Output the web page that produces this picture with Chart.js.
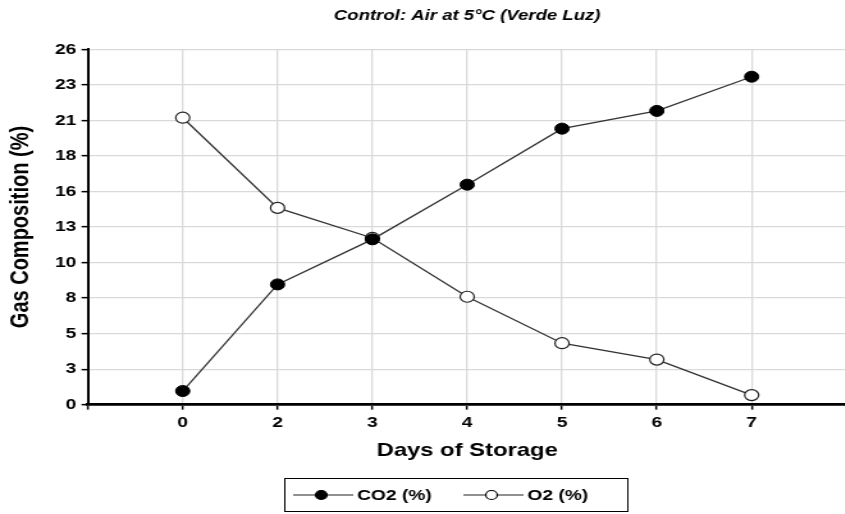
<!DOCTYPE html>
<html>
<head>
<meta charset="utf-8">
<script src="https://cdn.jsdelivr.net/npm/chart.js@4/dist/chart.umd.min.js"></script>
<style>
  html, body { margin: 0; padding: 0; background: #fff; overflow: hidden; }
  /* the original picture is stretched sideways, so draw narrow and widen it */
  #wrap { width: 668px; height: 514px; transform: scaleX(1.28); transform-origin: 0 0; }
</style>
</head>
<body>
<div id="wrap"><canvas id="chart1"></canvas></div>
<script>
// data
const days = ['0', '2', '3', '4', '5', '6', '7'];
const co2 = [1.0, 8.8, 12.1, 16.1, 20.2, 21.5, 24.0];
const o2 = [21.0, 14.4, 12.2, 7.9, 4.5, 3.3, 0.7];
const yTicks = [0, 2.6, 5.2, 7.8, 10.4, 13, 15.6, 18.2, 20.8, 23.4, 26];
const yTickLabels = ['0', '3', '5', '8', '10', '13', '16', '18', '21', '23', '26'];

// empty slot on each side of the days, like the original axis
const labels = [''].concat(days, ['']);
const pad = arr => [null].concat(arr, [null]);

const font = "'Liberation Sans', Arial, sans-serif";

// legend box with line + marker samples
const boxLegend = {
  id: 'boxLegend',
  afterDraw(chart) {
    const ctx = chart.ctx;
    ctx.save();
    ctx.strokeStyle = '#000';
    ctx.lineWidth = 1;
    ctx.strokeRect(222.5, 478.5, 268, 33);
    const y = 495;
    const items = [
      { x: 229, fill: '#000', text: 'CO2 (%)' },
      { x: 362, fill: '#fff', text: 'O2 (%)' }
    ];
    items.forEach(it => {
      ctx.strokeStyle = '#222';
      ctx.lineWidth = 1.2;
      ctx.beginPath();
      ctx.moveTo(it.x, y);
      ctx.lineTo(it.x + 47, y);
      ctx.stroke();
      ctx.beginPath();
      ctx.arc(it.x + 22, y, 4.5, 0, Math.PI * 2);
      ctx.fillStyle = it.fill;
      ctx.fill();
      ctx.strokeStyle = '#000';
      ctx.stroke();
      ctx.fillStyle = '#000';
      ctx.font = 'bold 15px ' + font;
      ctx.textBaseline = 'middle';
      ctx.fillText(it.text, it.x + 50, y + 1);
    });
    ctx.restore();
  }
};

const ctx1 = document.getElementById('chart1');

new Chart(ctx1, {
  type: 'line',
  data: {
    labels: labels,
    datasets: [{
      label: 'CO2 (%)',
      data: pad(co2),
      borderColor: '#333',
      borderWidth: 1.3,
      pointRadius: 5.5,
      pointBackgroundColor: '#000',
      pointBorderColor: '#000',
      pointBorderWidth: 1,
      tension: 0
    }, {
      label: 'O2 (%)',
      data: pad(o2),
      borderColor: '#333',
      borderWidth: 1.3,
      pointRadius: 5.5,
      pointBackgroundColor: '#fff',
      pointBorderColor: '#222',
      pointBorderWidth: 1.2,
      tension: 0
    }]
  },
  options: {
    responsive: true,
    maintainAspectRatio: false,
    animation: false,
    layout: { padding: { top: 0, right: 0, bottom: 52, left: 0 } },
    plugins: {
      legend: { display: false },
      tooltip: { enabled: false },
      title: {
        display: true,
        fullSize: false,
        text: 'Control: Air at 5°C (Verde Luz)',
        color: '#000',
        font: { family: font, size: 14.5, weight: 'bold', style: 'italic' },
        padding: { top: 7, bottom: 25 }
      }
    },
    scales: {
      x: {
        offset: false,
        grid: {
          color: '#d9d9d9',
          lineWidth: 1.3,
          tickColor: '#000',
          tickLength: 5,
          tickWidth: 1.5
        },
        border: { color: '#000', width: 2.8 },
        ticks: {
          color: '#000',
          padding: 4,
          maxRotation: 0,
          autoSkip: false,
          font: { family: font, size: 15, weight: 'bold' }
        },
        title: {
          display: true,
          text: 'Days of Storage',
          color: '#000',
          padding: { top: 4, bottom: 0 },
          font: { family: font, size: 18.6, weight: 'bold' }
        }
      },
      y: {
        min: 0,
        max: 26,
        afterBuildTicks: scale => {
          scale.ticks = yTicks.map(v => ({ value: v }));
        },
        grid: {
          color: '#d9d9d9',
          lineWidth: 1.3,
          tickColor: '#000',
          tickLength: 5,
          tickWidth: 1.5
        },
        border: { color: '#000', width: 2 },
        ticks: {
          color: '#000',
          padding: 4,
          font: { family: font, size: 15, weight: 'bold' },
          callback: (v, i) => yTickLabels[i]
        },
        title: {
          display: true,
          text: 'Gas Composition (%)',
          color: '#000',
          padding: { top: 4, bottom: 11 },
          font: { family: font, size: 20, weight: 'bold' }
        }
      }
    }
  },
  plugins: [boxLegend]
});
</script>
</body>
</html>
